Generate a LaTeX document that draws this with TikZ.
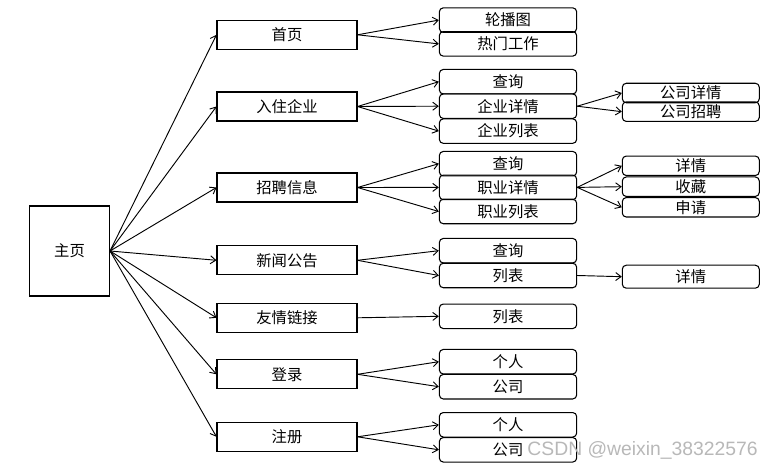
\documentclass[tikz,border=0pt]{standalone}
\usepackage{fontspec}
\setmainfont{Noto Sans CJK SC}
\newfontfamily\markfont{Liberation Sans}
\usetikzlibrary{arrows.meta}

\tikzset{
  mainbox/.style={draw, line width=0.8pt, minimum width=60pt, minimum height=67.5pt, inner sep=0pt},
  levelone/.style={draw, line width=0.8pt, minimum width=105pt, minimum height=21.75pt, inner sep=0pt},
  leveltwo/.style={draw, line width=0.8pt, rounded corners=3pt, minimum width=103pt, minimum height=18.4pt, inner sep=0pt},
  levelthree/.style={draw, line width=0.8pt, rounded corners=3pt, minimum width=102.75pt, minimum height=14.6pt, inner sep=0pt},
  link/.style={-{Straight Barb[length=4pt,width=6pt]}, line width=0.7pt},
}

\begin{document}
\begin{tikzpicture}[x=0.75pt, y=-0.75pt, font=\fontsize{11.5}{13}\selectfont]
    \useasboundingbox (0,0) rectangle (774,470);

    % Root
    \node[mainbox] (main) at (69.5, 251) {主页};

    % Level 1
    \node[levelone] (home)    at (287, 34.8)  {首页};
    \node[levelone] (settle)  at (287, 106.5) {入住企业};
    \node[levelone] (recruit) at (287, 187.5) {招聘信息};
    \node[levelone] (news)    at (287, 260.3) {新闻公告};
    \node[levelone] (links)   at (287, 317.8) {友情链接};
    \node[levelone] (login)   at (287, 374.3) {登录};
    \node[levelone] (signup)  at (287, 436.8) {注册};

    \foreach \n in {home, settle, recruit, news, links, login, signup}
        \draw[link] (main.east) -- (\n.west);

    % Level 2: 首页
    \node[leveltwo] (banner) at (508, 20.1) {轮播图};
    \node[leveltwo] (hotjob) at (508, 43.9) {热门工作};
    \draw[link] (home.east) -- (banner.west);
    \draw[link] (home.east) -- (hotjob.west);

    % Level 2: 入住企业
    \node[leveltwo] (coquery)  at (508, 81.7)  {查询};
    \node[leveltwo] (codetail) at (508, 106.2) {企业详情};
    \node[leveltwo] (colist)   at (508, 131.1) {企业列表};
    \draw[link] (settle.east) -- (coquery.west);
    \draw[link] (settle.east) -- (codetail.west);
    \draw[link] (settle.east) -- (colist.west);

    % Level 2: 招聘信息
    \node[leveltwo] (jobquery)  at (508, 163.7) {查询};
    \node[leveltwo] (jobdetail) at (508, 187.4) {职业详情};
    \node[leveltwo] (joblist)   at (508, 211.5) {职业列表};
    \draw[link] (recruit.east) -- (jobquery.west);
    \draw[link] (recruit.east) -- (jobdetail.west);
    \draw[link] (recruit.east) -- (joblist.west);

    % Level 2: 新闻公告
    \node[leveltwo] (newsquery) at (508, 250.7) {查询};
    \node[leveltwo] (newslist)  at (508, 275.5) {列表};
    \draw[link] (news.east) -- (newsquery.west);
    \draw[link] (news.east) -- (newslist.west);

    % Level 2: 友情链接
    \node[leveltwo] (linklist) at (508, 316.3) {列表};
    \draw[link] (links.east) -- (linklist.west);

    % Level 2: 登录
    \node[leveltwo] (loginuser) at (508, 361.7) {个人};
    \node[leveltwo] (logincomp) at (508, 386.7) {公司};
    \draw[link] (login.east) -- (loginuser.west);
    \draw[link] (login.east) -- (logincomp.west);

    % Level 2: 注册
    \node[leveltwo] (signuser) at (508, 424.8) {个人};
    \node[leveltwo] (signcomp) at (508, 449.8) {公司};
    \draw[link] (signup.east) -- (signuser.west);
    \draw[link] (signup.east) -- (signcomp.west);

    % Level 3
    \node[levelthree] (compinfo)  at (690.8, 93)    {公司详情};
    \node[levelthree] (comphire)  at (690.8, 111.7) {公司招聘};
    \draw[link] (codetail.east) -- (compinfo.west);
    \draw[link] (codetail.east) -- (comphire.west);

    \node[levelthree] (jobinfo)   at (690.8, 165.8) {详情};
    \node[levelthree] (jobfav)    at (690.8, 186.7) {收藏};
    \node[levelthree] (jobapply)  at (690.8, 207.3) {申请};
    \draw[link] (jobdetail.east) -- (jobinfo.west);
    \draw[link] (jobdetail.east) -- (jobfav.west);
    \draw[link] (jobdetail.east) -- (jobapply.west);

    \node[levelthree, minimum height=17.25pt] (newsinfo) at (690.8, 276.7) {详情};
    \draw[link] (newslist.east) -- (newsinfo.west);

    % Watermark
    \node[anchor=east, inner sep=0pt, text=black!28, font=\markfont\fontsize{14.5}{16}\selectfont] (mark) at (758, 450) {CSDN @weixin\_38322576};
\end{tikzpicture}
\end{document}
